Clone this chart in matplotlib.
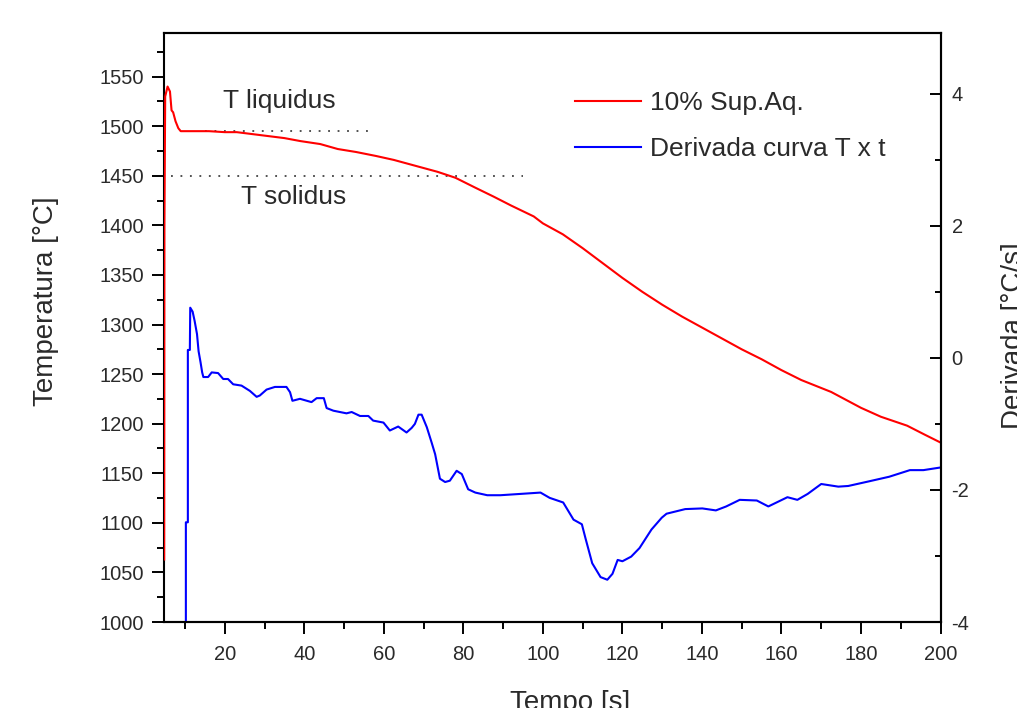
import matplotlib
matplotlib.use("Agg")
import matplotlib.pyplot as plt
from matplotlib.ticker import MultipleLocator

plt.rcParams['font.family'] = ['Liberation Sans', 'DejaVu Sans']
plt.rcParams['axes.unicode_minus'] = False

# ---- data ----
t_temp = [4.75, 4.8, 5.0, 5.6, 6.2, 6.6, 7.0, 7.6, 8.3, 8.9, 12, 16, 20, 23, 27, 31, 35,
          39, 44, 48.4, 53, 58, 62.5, 68, 73.5, 78, 83, 87.6, 92, 97.7, 100, 105, 110,
          115, 120, 125, 130, 135, 140, 145, 150, 155, 160, 165, 172.5, 180, 185,
          191.6, 196, 200]
temp = [1063, 1400, 1530, 1540, 1535, 1516, 1514, 1505, 1498, 1495, 1495, 1495, 1494,
        1494, 1492, 1490, 1488, 1485, 1482, 1477, 1474, 1470, 1466, 1460, 1454, 1448,
        1438, 1429, 1420, 1409, 1402, 1391, 1377, 1362, 1347, 1333, 1320, 1308, 1297,
        1286, 1275, 1265, 1254, 1244, 1232, 1216, 1207, 1198, 1189, 1181]

t_deriv = [10.2, 10.2, 10.7, 10.7, 11.2, 11.3, 11.9, 12.4, 13.0, 13.4, 13.9, 14.3, 14.6,
           15.8, 16.7, 18.3, 19.6, 20.8, 22.1, 24.2, 26.3, 28.0, 28.8, 30.5, 32.6, 35.5,
           36.4, 37.0, 38.9, 41.8, 43.1, 44.9, 45.6, 47.3, 50.6, 51.9, 54.0, 56.1, 57.3,
           59.9, 61.5, 63.6, 65.7, 67.0, 67.8, 68.7, 69.5, 70.8, 72.0, 72.9, 74.1, 75.4,
           76.6, 78.3, 79.6, 81.2, 83, 86, 89.3, 94.4, 99.4, 101.7, 105.1, 107.7, 109.8,
           110.7, 112.4, 114.5, 116.2, 117.5, 118.8, 120.0, 122.2, 124.3, 127.3, 129.9,
           131.1, 135.8, 140.1, 143.5, 146.1, 149.5, 153.8, 156.7, 161.5, 164.0, 166.6,
           170.0, 174.3, 176.8, 182.0, 187.1, 192.3, 195.7, 200]
deriv = [-4.5, -2.49, -2.49, 0.12, 0.12, 0.76, 0.70, 0.56, 0.36, 0.10, -0.07, -0.22, -0.29,
         -0.29, -0.22, -0.23, -0.32, -0.32, -0.40, -0.42, -0.50, -0.59, -0.57, -0.48,
         -0.44, -0.44, -0.52, -0.65, -0.62, -0.67, -0.61, -0.61, -0.76, -0.80, -0.84,
         -0.82, -0.88, -0.88, -0.95, -0.98, -1.10, -1.04, -1.13, -1.06, -1.00, -0.86,
         -0.86, -1.05, -1.28, -1.46, -1.83, -1.88, -1.86, -1.71, -1.76, -1.99, -2.04,
         -2.08, -2.08, -2.06, -2.04, -2.12, -2.19, -2.45, -2.52, -2.73, -3.11, -3.32,
         -3.36, -3.27, -3.06, -3.08, -3.01, -2.88, -2.60, -2.42, -2.36, -2.29, -2.28,
         -2.31, -2.25, -2.15, -2.16, -2.25, -2.11, -2.15, -2.06, -1.91, -1.95, -1.94,
         -1.87, -1.80, -1.70, -1.70, -1.66]

t_liquidus = [15, 56]
T_liquidus = [1495, 1495]
t_solidus = [6.5, 95]
T_solidus = [1450, 1450]

label_temp = "10% Sup.Aq."
label_deriv = "Derivada curva T x t"

# ---- figure ----
W, H = 1017, 708
fig = plt.figure(figsize=(W / 100, H / 100), dpi=100)
L, R, T, B = 164, 940.5, 33, 622
ax = fig.add_axes([L / W, 1 - B / H, (R - L) / W, (B - T) / H])
ax2 = ax.twinx()
ax2.spines['left'].set_visible(False)

txtc = '#2a2a2a'

l1, = ax.plot(t_temp, temp, color='#ff0000', lw=1.5, label=label_temp, zorder=3)
l2, = ax2.plot(t_deriv, deriv, color='#0000ff', lw=1.5, label=label_deriv)

ax.plot(t_liquidus, T_liquidus, color='#222222', lw=1.1, ls=(0, (1.2, 5)))
ax.plot(t_solidus, T_solidus, color='#222222', lw=1.1, ls=(0, (1.2, 5)))

ax.text(19.5, 1525, "T liquidus", fontsize=19, color=txtc, va='center', ha='left')
ax.text(24, 1429, "T solidus", fontsize=19, color=txtc, va='center', ha='left')

ax.set_xlim(4.7, 200)
ax.set_ylim(1000, 1594)
ax2.set_ylim(-4, 4.92)

ax.xaxis.set_major_locator(MultipleLocator(20))
ax.xaxis.set_minor_locator(MultipleLocator(10))
ax.yaxis.set_major_locator(MultipleLocator(50))
ax.yaxis.set_minor_locator(MultipleLocator(25))
ax2.yaxis.set_major_locator(MultipleLocator(2))
ax2.yaxis.set_minor_locator(MultipleLocator(1))

for a in (ax, ax2):
    for s in a.spines.values():
        s.set_linewidth(1.5)
        s.set_color('black')

ax.tick_params(axis='both', which='major', direction='out', length=8.5, width=1.4,
               labelsize=14.5, labelcolor=txtc, pad=6)
ax.tick_params(axis='both', which='minor', direction='out', length=5, width=1.4)
ax.tick_params(axis='x', which='major', pad=8)
ax.tick_params(axis='y', which='both', right=False)
ax.tick_params(axis='x', which='both', top=False)
ax2.tick_params(axis='y', which='major', direction='in', length=8, width=1.4,
                labelsize=14.5, labelcolor=txtc, pad=8)
ax2.tick_params(axis='y', which='minor', direction='in', length=4.5, width=1.4)

ax.set_xlabel("Tempo [s]", fontsize=20, color=txtc)
ax.xaxis.set_label_coords((570 - L) / (R - L), -(690 - B) / (B - T))
ax.set_ylabel("Temperatura [°C]", fontsize=20, color=txtc, va='center')
ax.yaxis.set_label_coords((46 - L) / (R - L), (B - 301) / (B - T))
ax2.set_ylabel("Derivada [°C/s]", fontsize=20, color=txtc, va='center')
ax2.yaxis.set_label_coords((1014 - L) / (R - L), (B - 336) / (B - T))

leg = ax.legend(handles=[l1, l2], loc='upper left',
                bbox_to_anchor=((575 - L) / (R - L), (B - 91) / (B - T)),
                frameon=False, fontsize=19, handlelength=2.5, handletextpad=0.35,
                labelspacing=0.85, borderpad=0, borderaxespad=0)
for tx in leg.get_texts():
    tx.set_color(txtc)

fig.savefig("out.png", dpi=100)
